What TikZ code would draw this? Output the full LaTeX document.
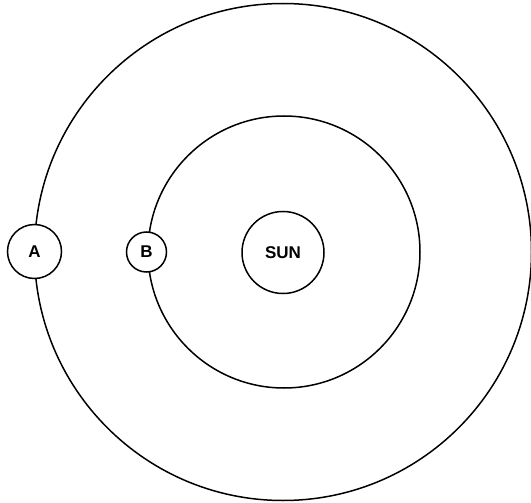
\documentclass[tikz,border=0pt]{standalone}
\usepackage{fontspec}
\setmainfont{Liberation Sans}
\begin{document}
\begin{tikzpicture}[x=1pt,y=-1pt,
  orbit/.style={draw=black,line width=1.5pt},
  body/.style={circle,draw=black,fill=white,line width=1.5pt,inner sep=0pt,font=\fontsize{17}{17}\selectfont\bfseries}]
\useasboundingbox (0,0) rectangle (531,503);
\coordinate (c) at (283,252);
\draw[orbit] (c) circle[radius=248.5];
\draw[orbit] (284,252) circle[radius=136];
\node[body,minimum size=82pt] (sun) at (283,252.5) {SUN};
\node[body,minimum size=54pt] (a) at (34.5,251.5) {A};
\node[body,minimum size=40pt] (b) at (146.5,252) {B};
\end{tikzpicture}
\end{document}
